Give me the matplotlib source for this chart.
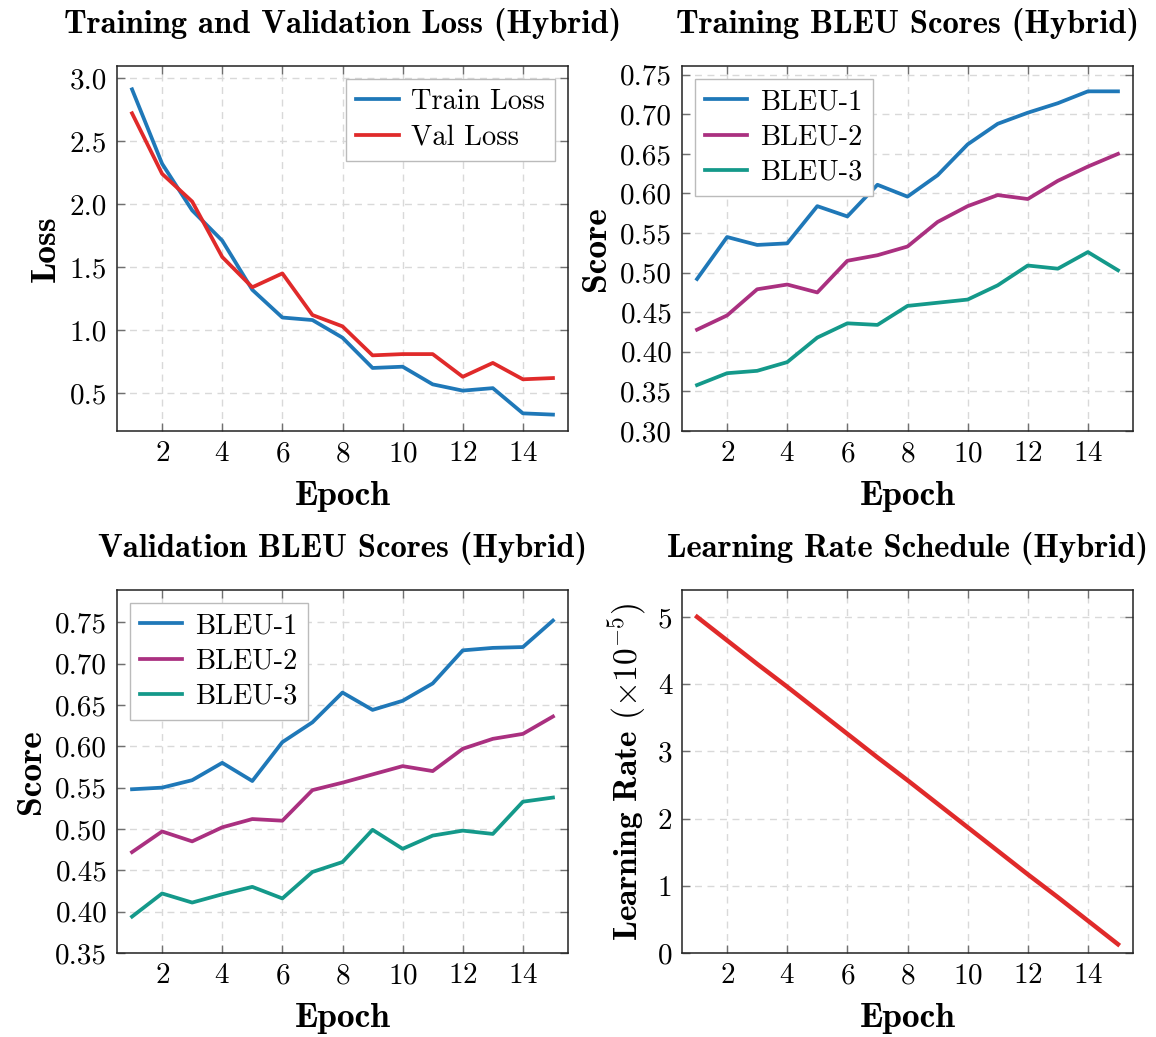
import numpy as np
import matplotlib
matplotlib.use("Agg")
import matplotlib.pyplot as plt

# --- Data ---
epochs = list(range(1, 16))

train_loss = [2.91, 2.32, 1.95, 1.71, 1.32, 1.10, 1.08, 0.94, 0.70, 0.71, 0.57, 0.52, 0.54, 0.34, 0.33]
val_loss = [2.72, 2.24, 2.02, 1.58, 1.34, 1.45, 1.12, 1.03, 0.80, 0.81, 0.81, 0.63, 0.74, 0.61, 0.62]

train_bleu1 = [0.492, 0.545, 0.535, 0.537, 0.584, 0.571, 0.611, 0.596, 0.623, 0.662, 0.688, 0.702, 0.714, 0.729, 0.729]
train_bleu2 = [0.428, 0.446, 0.479, 0.485, 0.475, 0.515, 0.522, 0.533, 0.564, 0.584, 0.598, 0.593, 0.616, 0.634, 0.650]
train_bleu3 = [0.358, 0.373, 0.376, 0.387, 0.418, 0.436, 0.434, 0.458, 0.462, 0.466, 0.484, 0.509, 0.505, 0.526, 0.503]

val_bleu1 = [0.548, 0.550, 0.559, 0.580, 0.558, 0.605, 0.629, 0.665, 0.644, 0.655, 0.676, 0.716, 0.719, 0.720, 0.752]
val_bleu2 = [0.472, 0.497, 0.485, 0.502, 0.512, 0.510, 0.547, 0.556, 0.566, 0.576, 0.570, 0.597, 0.609, 0.615, 0.636]
val_bleu3 = [0.394, 0.422, 0.411, 0.421, 0.430, 0.416, 0.448, 0.460, 0.499, 0.476, 0.492, 0.498, 0.494, 0.533, 0.538]

lr = [5.00, 4.65, 4.30, 3.96, 3.61, 3.26, 2.91, 2.57, 2.22, 1.87, 1.52, 1.17, 0.83, 0.48, 0.13]

# --- Style ---
BLUE = "#1f78b8"
RED = "#e02a2a"
MAGENTA = "#aa3080"
TEAL = "#14998a"

plt.rcParams["font.family"] = "cmr10"
plt.rcParams["mathtext.fontset"] = "cm"
plt.rcParams["axes.formatter.use_mathtext"] = True

TICK_FS = 21
LEG_FS = 20.5
LAB_FS = 25.5
TITLE_FS = 23.5
LW = 2.7

W, H = 1156, 1037
fig = plt.figure(figsize=(W / 100, H / 100), dpi=100)


def make_axes(left, top, right, bottom):
    return fig.add_axes([left / W, 1 - bottom / H, (right - left) / W, (bottom - top) / H])


def style(ax, title, ylabel, ylim, yticks, yfmt, ylab_fs=LAB_FS):
    ax.set_xlim(0.5, 15.5)
    ax.set_ylim(*ylim)
    ax.set_xticks(range(2, 16, 2))
    ax.set_yticks(yticks)
    ax.set_yticklabels([yfmt.format(v) for v in yticks])
    ax.grid(True, color="#d9d9d9", linestyle=(0, (5, 4)), linewidth=1.0)
    ax.set_axisbelow(True)
    ax.tick_params(direction="in", length=6, width=1.0, color="#707070",
                   top=True, right=True, labelsize=TICK_FS, pad=7)
    for s in ax.spines.values():
        s.set_linewidth(1.1)
        s.set_color("#222222")
    ax.set_title(title, fontfamily="cmb10", fontsize=TITLE_FS, pad=24)
    ax.set_xlabel("Epoch", fontfamily="cmb10", fontsize=LAB_FS, labelpad=10)
    ax.set_ylabel(ylabel, fontfamily="cmb10", fontsize=ylab_fs, labelpad=6)


def legend(ax, loc):
    leg = ax.legend(loc=loc, fontsize=LEG_FS, fancybox=False, framealpha=1.0,
                    edgecolor="#bbbbbb", handlelength=1.5, handletextpad=0.45,
                    borderpad=0.35, labelspacing=0.32, borderaxespad=0.45)
    leg.get_frame().set_linewidth(1.0)


# Top left: loss
ax1 = make_axes(117, 66, 568, 431)
ax1.plot(epochs, train_loss, color=BLUE, lw=LW, label="Train Loss")
ax1.plot(epochs, val_loss, color=RED, lw=LW, label="Val Loss")
style(ax1, "Training and Validation Loss (Hybrid)", "Loss", (0.2, 3.095),
      [0.5, 1.0, 1.5, 2.0, 2.5, 3.0], "{:.1f}")
legend(ax1, "upper right")

# Top right: training BLEU
ax2 = make_axes(682, 66, 1133, 431)
ax2.plot(epochs, train_bleu1, color=BLUE, lw=LW, label="BLEU-1")
ax2.plot(epochs, train_bleu2, color=MAGENTA, lw=LW, label="BLEU-2")
ax2.plot(epochs, train_bleu3, color=TEAL, lw=LW, label="BLEU-3")
style(ax2, "Training BLEU Scores (Hybrid)", "Score", (0.30, 0.761),
      [0.30, 0.35, 0.40, 0.45, 0.50, 0.55, 0.60, 0.65, 0.70, 0.75], "{:.2f}")
legend(ax2, "upper left")

# Bottom left: validation BLEU
ax3 = make_axes(117, 590, 568, 953)
ax3.plot(epochs, val_bleu1, color=BLUE, lw=LW, label="BLEU-1")
ax3.plot(epochs, val_bleu2, color=MAGENTA, lw=LW, label="BLEU-2")
ax3.plot(epochs, val_bleu3, color=TEAL, lw=LW, label="BLEU-3")
style(ax3, "Validation BLEU Scores (Hybrid)", "Score", (0.35, 0.789),
      [0.35, 0.40, 0.45, 0.50, 0.55, 0.60, 0.65, 0.70, 0.75], "{:.2f}")
legend(ax3, "upper left")

# Bottom right: learning rate
ax4 = make_axes(682, 590, 1133, 953)
ax4.plot(epochs, lr, color=RED, lw=LW + 0.5)
style(ax4, "Learning Rate Schedule (Hybrid)", r"Learning Rate $(\times 10^{-5})$", (0, 5.4),
      [0, 1, 2, 3, 4, 5], "{:d}", ylab_fs=24)

fig.savefig("out.png", dpi=100)
